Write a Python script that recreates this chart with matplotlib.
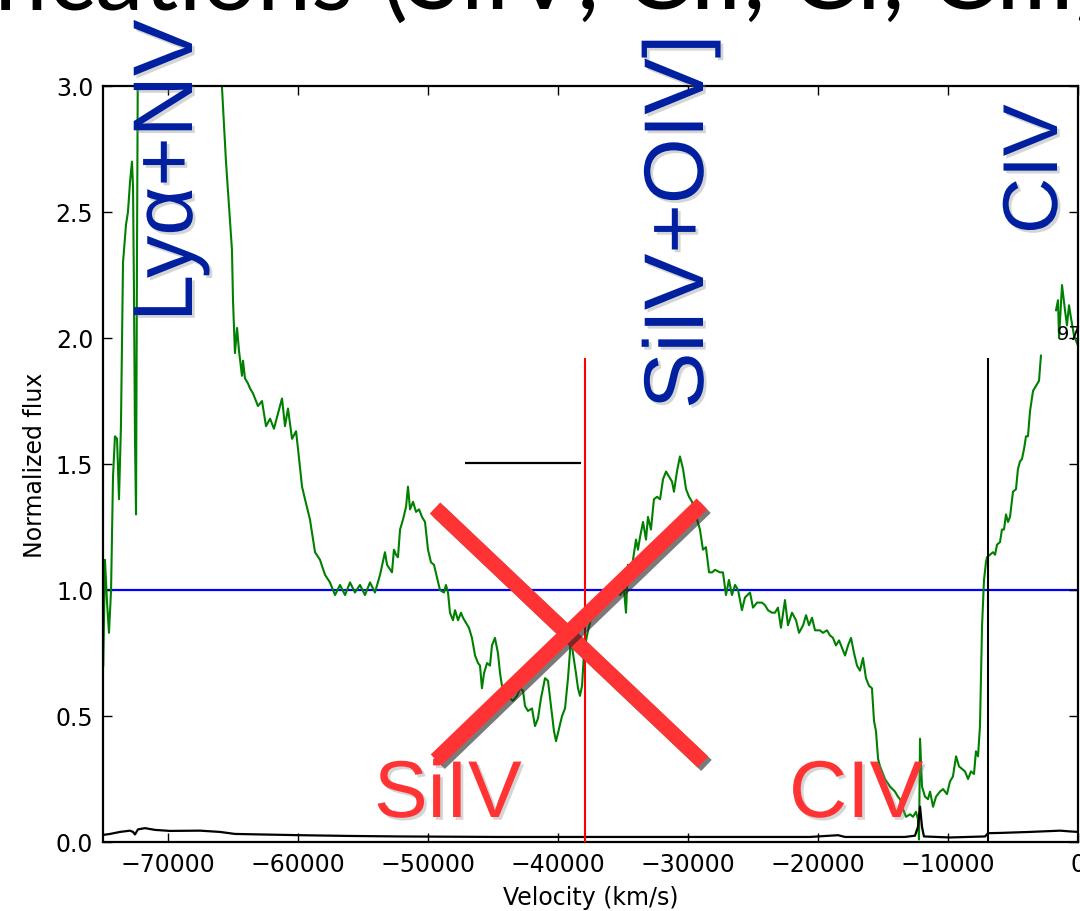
import numpy as np
import matplotlib
matplotlib.use("Agg")
import matplotlib.pyplot as plt
import matplotlib.patheffects as pe
from matplotlib.lines import Line2D

# ---------------- data ----------------
flux_vel = [-74980, -74850, -74690, -74540, -74380, -74230, -74080, -73920, -73770, -73620, -73460,
            -73230, -73080, -72920, -72770, -72690, -72620, -72540, -72460, -72380, -72310,
            -72150, -69080, -66380, -65850, -65540, -65230, -65080, -65000, -64850, -64690,
            -64540, -64310, -64230, -64080, -63850, -63690, -63460, -63310, -63080, -62770,
            -62460, -62150, -61850, -61540, -61230, -61000, -60770, -60460, -60150, -60000,
            -59690, -59460, -59080, -58690, -58310, -57920, -57540, -57150, -56770, -56380,
            -56000, -55620, -55230, -54850, -54460, -54080, -53690, -53310, -53150, -52770,
            -52620, -52460, -52310, -52150, -51920, -51690, -51540, -51380, -51150, -50920,
            -50690, -50460, -50230, -50000, -49770, -49540, -49310, -49080, -48770, -48620,
            -48460, -48310, -48080, -47920, -47690, -47460, -47310, -47080, -46850, -46620,
            -46380, -46150, -46000, -45850, -45690, -45460, -45230, -45080, -44850, -44620,
            -44460, -44310, -44080, -43690, -43460, -43150, -42920, -42690, -42540, -42310,
            -42000, -41770, -41540, -41310, -41000, -40770, -40540, -40310, -40150, -39920,
            -39690, -39460, -39230, -39000, -38850, -38620, -38460, -38310, -38150, -38000,
            -37770, -37540, -37380, -37080, -36770, -36380, -36000, -35620, -35230, -34920,
            -34770, -34620, -34460, -34230, -34000, -33850, -33690, -33460, -33230, -33080,
            -32850, -32620, -32380, -32150, -31920, -31690, -31460, -31230, -31080, -30850,
            -30620, -30380, -30150, -29920, -29690, -29540, -29310, -29080, -28850, -28620,
            -28380, -28150, -27920, -27540, -27310, -27080, -26850, -26620, -26380, -26150,
            -25850, -25620, -25230, -25000, -24690, -24310, -24080, -23850, -23540, -23310,
            -23080, -22850, -22540, -22310, -22000, -21690, -21460, -21150, -20920, -20690,
            -20460, -20230, -19850, -19620, -19310, -19080, -18850, -18620, -18380, -18150,
            -17920, -17690, -17460, -17230, -17000, -16770, -16540, -16310, -16080, -15850,
            -15690, -15540, -15380, -15230, -14850, -14460, -14080, -13850, -13690, -13460,
            -13230, -12920, -12690, -12460, -12310, -12230, -12150, -12000, -11770, -11540,
            -11380, -11150, -10920, -10620, -10380, -10080, -9850, -9620, -9380, -9150,
            -8920, -8690, -8460, -8230, -8000, -7850, -7690, -7540, -7380, -7230,
            -7080, -7000, -6770, -6540, -6380, -6230, -6000, -5850, -5690, -5540,
            -5380, -5230, -5000, -4770, -4620, -4460, -4310, -4150, -4000, -3850,
            -3690, -3460, -3230, -3000, -2850, -2300, -1690, -1540, -1460, -1230,
            -1000, -850, -690, -540, -310, 0]
flux_norm = [0.70, 1.12, 0.95, 0.83, 1.00, 1.45, 1.61, 1.60, 1.36, 1.65, 2.30,
             2.45, 2.50, 2.62, 2.70, 2.60, 2.20, 1.60, 1.30, 2.40, 3.20,
             4.00, 5.00, 3.50, 3.00, 2.70, 2.46, 2.35, 2.15, 1.94, 2.04,
             1.95, 1.85, 1.91, 1.84, 1.82, 1.80, 1.78, 1.76, 1.73, 1.75,
             1.65, 1.68, 1.64, 1.70, 1.76, 1.65, 1.72, 1.60, 1.63, 1.56,
             1.41, 1.36, 1.28, 1.15, 1.12, 1.06, 1.03, 0.98, 1.02, 0.98,
             1.03, 0.99, 1.02, 0.98, 1.03, 0.99, 1.06, 1.15, 1.10, 1.07,
             1.16, 1.14, 1.13, 1.24, 1.28, 1.33, 1.41, 1.32, 1.35, 1.31,
             1.32, 1.29, 1.27, 1.16, 1.11, 1.10, 1.05, 1.00, 0.99, 1.02,
             0.99, 0.91, 0.88, 0.92, 0.88, 0.91, 0.89, 0.87, 0.85, 0.81,
             0.74, 0.71, 0.70, 0.61, 0.67, 0.71, 0.70, 0.78, 0.81, 0.75,
             0.67, 0.62, 0.60, 0.57, 0.56, 0.58, 0.61, 0.60, 0.54, 0.52,
             0.53, 0.46, 0.49, 0.57, 0.65, 0.64, 0.54, 0.44, 0.40, 0.45,
             0.50, 0.53, 0.65, 0.81, 0.75, 0.67, 0.61, 0.58, 0.62, 0.75,
             0.82, 0.87, 0.91, 0.93, 0.95, 0.98, 1.00, 1.02, 0.98, 1.00,
             0.91, 1.10, 1.05, 1.12, 1.20, 1.16, 1.21, 1.27, 1.20, 1.29,
             1.24, 1.36, 1.37, 1.36, 1.44, 1.47, 1.45, 1.43, 1.39, 1.47,
             1.53, 1.48, 1.40, 1.37, 1.35, 1.32, 1.28, 1.24, 1.16, 1.17,
             1.07, 1.07, 1.08, 1.07, 1.07, 0.98, 1.04, 0.98, 1.02, 1.00,
             0.92, 0.97, 0.99, 0.93, 0.95, 0.95, 0.94, 0.92, 0.91, 0.91,
             0.93, 0.85, 0.96, 0.86, 0.91, 0.88, 0.83, 0.86, 0.90, 0.86,
             0.89, 0.84, 0.84, 0.83, 0.84, 0.82, 0.81, 0.78, 0.80, 0.77,
             0.74, 0.78, 0.81, 0.75, 0.70, 0.68, 0.73, 0.65, 0.62, 0.61,
             0.48, 0.44, 0.33, 0.30, 0.25, 0.22, 0.20, 0.18, 0.17, 0.13,
             0.10, 0.11, 0.10, 0.12, 0.09, 0.01, 0.41, 0.22, 0.18, 0.17,
             0.20, 0.14, 0.18, 0.20, 0.21, 0.19, 0.24, 0.26, 0.34, 0.30,
             0.29, 0.28, 0.25, 0.28, 0.27, 0.36, 0.34, 0.46, 0.86, 1.04,
             1.11, 1.13, 1.14, 1.15, 1.14, 1.18, 1.19, 1.24, 1.24, 1.30,
             1.27, 1.29, 1.39, 1.40, 1.48, 1.51, 1.52, 1.56, 1.61, 1.61,
             1.71, 1.79, 1.81, 1.83, 1.93, np.nan, 2.11, 2.15, 2.00, 2.21,
             2.11, 2.05, 2.13, 2.08, 2.01, 1.97]

err_vel = [-75000, -74460, -73690, -72920, -72690, -72540, -72310, -71770, -71000, -69850,
           -67540, -66000, -64850, -62920, -59850, -56000, -52150, -44460, -36770, -29080,
           -20620, -18460, -17920, -16000, -13310, -12540, -12310, -12150, -12000, -11850,
           -9850, -7150, -6920, -6000, -3690, -1380, -620, 0]
err_flux = [0.028, 0.032, 0.040, 0.045, 0.040, 0.030, 0.050, 0.055, 0.048, 0.044,
            0.045, 0.040, 0.032, 0.030, 0.027, 0.024, 0.022, 0.020, 0.020, 0.020,
            0.020, 0.027, 0.020, 0.020, 0.020, 0.025, 0.060, 0.140, 0.060, 0.022,
            0.018, 0.022, 0.035, 0.036, 0.040, 0.045, 0.042, 0.040]

continuum_level = 1.0
siiv_mark_vel = -37900      # red marker
civ_mark_vel = -6920        # black marker
marker_top = 1.92
bar_vel = [-47150, -38230]  # black horizontal bar
bar_level = 1.504

xticks = [-70000, -60000, -50000, -40000, -30000, -20000, -10000, 0]
yticks = [0.0, 0.5, 1.0, 1.5, 2.0, 2.5, 3.0]

# ---------------- figure ----------------
W, H = 1080, 912
fig = plt.figure(figsize=(W / 100, H / 100), dpi=100)
ax = fig.add_axes([103 / W, 1 - 843 / H, (1078 - 103) / W, (843 - 87) / H])

def fpx(x, y):
    return (x / W, 1 - y / H)

ax.plot(err_vel, err_flux, color='black', lw=1.6, zorder=3)
ax.plot(flux_vel, flux_norm, color='green', lw=1.5, zorder=2)
ax.axhline(continuum_level, color='blue', lw=1.6, zorder=1)
ax.vlines(siiv_mark_vel, 0, marker_top, color='red', lw=1.5, zorder=4)
ax.vlines(civ_mark_vel, 0, marker_top, color='black', lw=1.5, zorder=4)
ax.hlines(bar_level, bar_vel[0], bar_vel[1], color='black', lw=1.6, zorder=4)

ax.set_xlim(-75000, 0)
ax.set_ylim(0, 3.0)
ax.set_xticks(xticks)
ax.set_yticks(yticks)
ax.set_yticklabels([f"{t:.1f}" for t in yticks])
ax.tick_params(direction='in', length=6.5, width=1, top=True, right=True,
               labelsize=17, pad=7)
for s in ax.spines.values():
    s.set_linewidth(1.6)
ax.set_xlabel("Velocity (km/s)", fontsize=17, labelpad=7)
ax.set_ylabel("Normalized flux", fontsize=17, labelpad=6)

# small clipped label at right
fig.text(*fpx(1057, 340), "97", fontsize=14, color='black', ha='left', va='baseline')

# ---------------- overlay annotations ----------------
blue = '#0020A0'
red = '#FF3333'
shadow = [pe.withSimplePatchShadow(offset=(2, -2), shadow_rgbFace='#888888', alpha=0.35)]

fig.text(*fpx(192, 323), "Lyα+NV", fontsize=61, color=blue, family='Liberation Sans',
         rotation=90, rotation_mode='anchor', ha='left', va='baseline', path_effects=shadow)
fig.text(*fpx(703, 410), "SiIV+OIV]", fontsize=61, color=blue, family='Liberation Sans',
         rotation=90, rotation_mode='anchor', ha='left', va='baseline', path_effects=shadow)
fig.text(*fpx(1057, 235), "CIV", fontsize=56, color=blue, family='Liberation Sans',
         rotation=90, rotation_mode='anchor', ha='left', va='baseline', path_effects=shadow)

fig.text(*fpx(374, 818), "SiIV", fontsize=58, color=red, family='Liberation Sans',
         ha='left', va='baseline', path_effects=shadow)
fig.text(*fpx(789, 818), "CIV", fontsize=58, color=red, family='Liberation Sans',
         ha='left', va='baseline', path_effects=shadow)

# big red cross
xs_shadow = [pe.SimpleLineShadow(offset=(2.5, -2.5), shadow_color='#222222', alpha=0.6), pe.Normal()]
for (x0, y0, x1, y1) in [(435, 509, 703, 763), (436, 761, 702, 505)]:
    a = fpx(x0, y0); b = fpx(x1, y1)
    fig.add_artist(Line2D([a[0], b[0]], [a[1], b[1]], transform=fig.transFigure,
                          color=red, lw=11, solid_capstyle='butt', path_effects=xs_shadow, zorder=10))

# title strip at the top (mostly cut off)
fig.text(*fpx(378, 9), "Identifications ", fontsize=70, family='Lato', color='black',
         ha='right', va='baseline')
fig.text(*fpx(382, 9), "(SiIV, CII, CI, CIII)", fontsize=70, family='Lato', color='black',
         ha='left', va='baseline')

fig.savefig("out.png", dpi=100)
